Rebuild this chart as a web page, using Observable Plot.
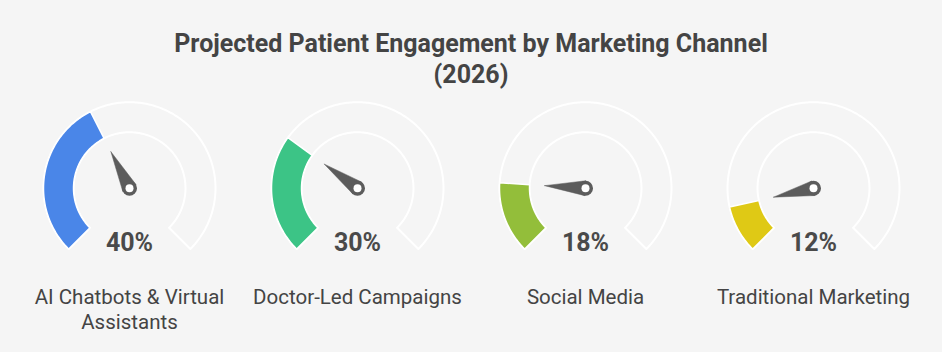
<!DOCTYPE html>
<html><head><meta charset="utf-8">
<script src="https://cdn.jsdelivr.net/npm/d3@7"></script>
<script src="https://cdn.jsdelivr.net/npm/@observablehq/plot@0.6"></script>
<style>
html,body{margin:0;padding:0;background:#f5f5f5;}
body{width:942px;height:352px;overflow:hidden;font-family:Roboto,sans-serif;}
#title{height:92px;box-sizing:border-box;padding-top:28px;text-align:center;font-weight:700;font-size:25px;line-height:31px;color:#444;}
#chart svg{display:block;}
</style></head><body>
<div id="title">Projected Patient Engagement by Marketing Channel<br>(2026)</div>
<div id="chart"></div>
<script>
// ---- data ----
const categories = ["AI Chatbots & Virtual\nAssistants", "Doctor-Led Campaigns", "Social Media", "Traditional Marketing"];
const values = [40, 30, 18, 12];
const valueLabels = ["40%", "30%", "18%", "12%"];
const colors = ["#4a86e8", "#3cc486", "#93be3a", "#dfc915"];

// ---- gauge geometry (styling) ----
const START = -135, SWEEP = 270;      // degrees, clockwise from top
const R_OUT = 1, R_IN = 0.651;
const NEEDLE_LEN = 0.476, NEEDLE_HALF = 0.087;
const rad = d => d * Math.PI / 180;
const angleOf = v => rad(START + v / 100 * SWEEP);

function arc(cat, id, a0, a1, extra) {
  const pts = [];
  const n = Math.max(2, Math.ceil(Math.abs(a1 - a0) / rad(1)));
  for (let i = 0; i <= n; i++) { const a = a0 + (a1 - a0) * i / n; pts.push({cat, id, x: R_OUT * Math.sin(a), y: R_OUT * Math.cos(a), ...extra}); }
  for (let i = n; i >= 0; i--) { const a = a0 + (a1 - a0) * i / n; pts.push({cat, id, x: R_IN * Math.sin(a), y: R_IN * Math.cos(a), ...extra}); }
  pts.push({...pts[0]});
  return pts;
}

const bgArcs = [], valArcs = [], needles = [], hubs = [], pctText = [], catText = [];
categories.forEach((cat, i) => {
  bgArcs.push(...arc(cat, "bg" + i, rad(START), rad(START + SWEEP), {}));
  valArcs.push(...arc(cat, "v" + i, rad(START), angleOf(values[i]), {color: colors[i]}));
  const a = angleOf(values[i]);
  needles.push(
    {cat, id: "n" + i, x: NEEDLE_LEN * Math.sin(a), y: NEEDLE_LEN * Math.cos(a)},
    {cat, id: "n" + i, x: NEEDLE_HALF * Math.cos(a), y: -NEEDLE_HALF * Math.sin(a)},
    {cat, id: "n" + i, x: -NEEDLE_HALF * Math.cos(a), y: NEEDLE_HALF * Math.sin(a)},
    {cat, id: "n" + i, x: NEEDLE_LEN * Math.sin(a), y: NEEDLE_LEN * Math.cos(a)}
  );
  hubs.push({cat, x: 0, y: 0});
  pctText.push({cat, label: valueLabels[i]});
  catText.push({cat, label: cat});
});

const chart = Plot.plot({
  width: 942, height: 260,
  marginLeft: 15, marginRight: 15, marginTop: 0, marginBottom: 0,
  fx: {domain: categories, padding: 0, axis: null},
  x: {domain: [-1.3256, 1.3256], axis: null},
  y: {domain: [-1.910, 1.113], axis: null},
  color: {type: "identity"},
  style: {background: "#f5f5f5", fontFamily: "Roboto, sans-serif"},
  marks: [
    Plot.line(bgArcs, {fx: "cat", x: "x", y: "y", z: "id", fill: "#f5f5f5", stroke: "white", strokeWidth: 2}),
    Plot.line(valArcs, {fx: "cat", x: "x", y: "y", z: "id", fill: "color", stroke: "white", strokeWidth: 1.5}),
    Plot.line(needles, {fx: "cat", x: "x", y: "y", z: "id", fill: "#5c5c5c", stroke: "#5c5c5c", strokeWidth: 0.5}),
    Plot.dot(hubs, {fx: "cat", x: "x", y: "y", r: 7.5, fill: "#5c5c5c", stroke: "none"}),
    Plot.dot(hubs, {fx: "cat", x: "x", y: "y", r: 4, fill: "white", stroke: "none"}),
    Plot.text(pctText, {fx: "cat", x: () => 0, y: () => -0.637, text: "label", fontSize: 25, fontWeight: 700, fill: "#4a4a4a"}),
    Plot.text(catText, {fx: "cat", x: () => 0, y: () => -1.145, text: "label", fontSize: 20.5, fill: "#444", lineAnchor: "top", lineHeight: 1.22})
  ]
});
document.getElementById("chart").appendChild(chart);
</script>
</body></html>
